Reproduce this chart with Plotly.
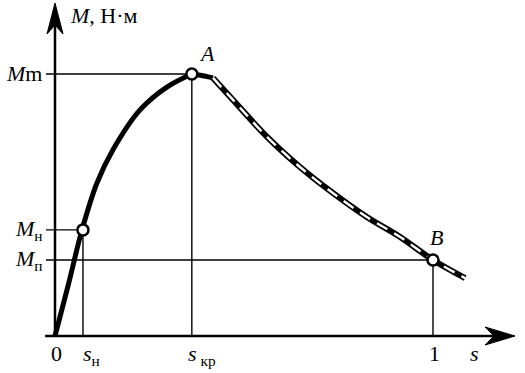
import plotly.graph_objects as go

# ---- data (slip s, torque M in relative units, Mm = 1) ----
s_rise = [0.0, 0.036, 0.0714, 0.111, 0.153, 0.225, 0.296, 0.362]
M_rise = [0.0, 0.20, 0.405, 0.584, 0.710, 0.863, 0.950, 1.0]

s_peak = [0.362, 0.381, 0.418]
M_peak = [1.0, 0.996, 0.985]

s_fall = [0.418, 0.471, 0.561, 0.648, 0.735, 0.825, 0.913, 1.0, 1.085]
M_fall = [0.985, 0.901, 0.760, 0.645, 0.546, 0.454, 0.378, 0.29, 0.221]

s_n, M_n = 0.074, 0.405      # nominal point
s_kr, M_m = 0.362, 1.0       # critical point A
s_B, M_p = 1.0, 0.29         # starting point B

x_range = [-0.1455, 1.2434]
y_range = [-0.1412, 1.2824]
x_axis_start, x_axis_tip = -0.026, 1.217
y_axis_tip = 1.271
tick_left = -0.024

FONT = "Liberation Serif"
BLACK = "#000000"

fig = go.Figure()

# main curves
fig.add_trace(go.Scatter(x=s_rise, y=M_rise, mode="lines", line=dict(color=BLACK, width=5, shape="spline"),
                         hoverinfo="skip"))
fig.add_trace(go.Scatter(x=s_peak, y=M_peak, mode="lines", line=dict(color=BLACK, width=5, shape="spline"),
                         hoverinfo="skip"))
fig.add_trace(go.Scatter(x=s_fall, y=M_fall, mode="lines", line=dict(color=BLACK, width=6, shape="spline"),
                         hoverinfo="skip"))
fig.add_trace(go.Scatter(x=s_fall, y=M_fall, mode="lines",
                         line=dict(color="white", width=2.4, shape="spline", dash="12px,8px"),
                         hoverinfo="skip"))

# guide lines
thin = dict(color=BLACK, width=1.4)
for (sx, my) in [(s_kr, M_m), (s_n, M_n), (s_B, M_p)]:
    fig.add_shape(type="line", x0=tick_left, y0=my, x1=sx, y1=my, line=thin, layer="below")
    fig.add_shape(type="line", x0=sx, y0=0, x1=sx, y1=my, line=thin, layer="below")

# axes
fig.add_shape(type="line", x0=x_axis_start, y0=0, x1=x_axis_tip - 0.03, y1=0, line=dict(color=BLACK, width=2.5))
fig.add_shape(type="line", x0=0, y0=0, x1=0, y1=y_axis_tip - 0.06, line=dict(color=BLACK, width=2.5))
# arrowheads (pixel-sized paths anchored at axis tips)
fig.add_shape(type="path", xref="x", yref="y", xsizemode="pixel", ysizemode="pixel",
              xanchor=x_axis_tip, yanchor=0,
              path="M0,0 L-30,9 L-21,0 L-30,-9 Z", fillcolor=BLACK, line=dict(color=BLACK, width=1))
fig.add_shape(type="path", xref="x", yref="y", xsizemode="pixel", ysizemode="pixel",
              xanchor=0, yanchor=y_axis_tip,
              path="M0,0 L-8,-31 L0,-22 L8,-31 Z", fillcolor=BLACK, line=dict(color=BLACK, width=1))

# points
fig.add_trace(go.Scatter(x=[s_n, s_kr, s_B], y=[M_n, M_m, M_p], mode="markers",
                         marker=dict(size=11, color="white", line=dict(color=BLACK, width=2.5)),
                         hoverinfo="skip"))

# labels
def label(x, y, text, xanchor="center", yanchor="middle", size=22):
    fig.add_annotation(x=x, y=y, text=text, showarrow=False, xanchor=xanchor, yanchor=yanchor,
                       font=dict(family=FONT, size=size, color=BLACK))

label(0.034, 1.222, "<i>M</i>, Н·м", xanchor="left")
label(0.402, 1.078, "<i>A</i>")
label(1.008, 0.375, "<i>B</i>")
label(-0.030, M_m, "<i>M</i>m", xanchor="right")
label(-0.026, M_n, "<i>M</i><sub>н</sub>", xanchor="right")
label(-0.026, M_p, "<i>M</i><sub>п</sub>", xanchor="right")
label(0.005, -0.066, "0")
label(0.069, -0.072, "<i>s</i><sub>н</sub>", xanchor="left")
label(0.347, -0.072, "<i>s</i><sub> кр</sub>", xanchor="left")
label(1.003, -0.066, "1")
label(1.11, -0.066, "<i>s</i>")

fig.update_layout(
    width=525, height=373,
    margin=dict(l=0, r=0, t=0, b=0),
    paper_bgcolor="white", plot_bgcolor="white",
    showlegend=False,
    xaxis=dict(range=x_range, visible=False, fixedrange=True),
    yaxis=dict(range=y_range, visible=False, fixedrange=True),
)

fig.write_html("out.html")
